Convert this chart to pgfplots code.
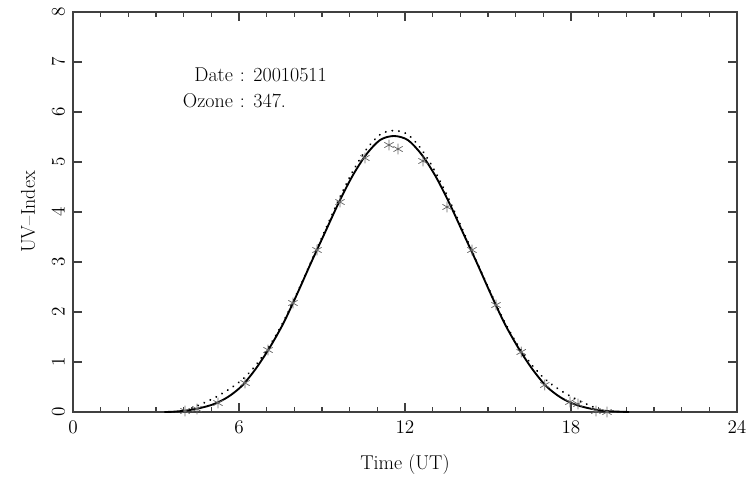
\documentclass[border=0pt]{standalone}
\usepackage{pgfplots}
\pgfplotsset{compat=1.18}
\begin{document}
\begin{tikzpicture}[font=\fontsize{15}{17}\selectfont]
\useasboundingbox (0,0) rectangle (562.5pt,357pt);
\begin{axis}[
  at={(54.75pt,48pt)}, anchor=south west,
  scale only axis, width=498pt, height=300pt,
  xmin=0, xmax=24, ymin=0, ymax=8,
  xtick={0,6,12,18,24},
  minor xtick={1,2,3,4,5,7,8,9,10,11,13,14,15,16,17,19,20,21,22,23},
  ytick={0,1,2,3,4,5,6,7,8},
  tick align=inside,
  major tick length=6.75pt, minor tick length=3.75pt,
  axis line style={black!75, line width=0.9pt},
  every tick/.style={black!75, line width=0.9pt},
  tick label style={font=\fontsize{15}{17}\selectfont},
  xticklabel style={yshift=-3pt},
  yticklabel style={rotate=90, anchor=south, inner sep=6pt},
  xlabel={Time (UT)}, ylabel={UV--Index},
  every axis x label/.style={at={(axis description cs:0.5,-0.1325)}, anchor=center},
  every axis y label/.style={at={(axis description cs:-0.0678,0.5)}, anchor=center, rotate=90},
  clip=false,
]
% dotted model curve
\addplot[black, line width=1.6pt, line cap=round, dash pattern=on 0.01pt off 5pt, smooth] coordinates {
(4.3,0.08) (4.6,0.15) (5.1,0.28) (5.6,0.44) (6.1,0.64) (6.6,0.93) (7.1,1.32) (7.6,1.80) (8.1,2.38) (8.6,3.00) (9.1,3.62) (9.6,4.24) (10.1,4.80) (10.6,5.25) (11.1,5.55) (11.6,5.63) (12.1,5.55) (12.6,5.25) (13.1,4.80) (13.6,4.24) (14.1,3.62) (14.6,3.00) (15.1,2.38) (15.6,1.80) (16.1,1.32) (16.6,0.93) (17.1,0.64) (17.6,0.44) (18.1,0.28) (18.6,0.15) (18.9,0.08)
};
% solid model curve
\addplot[black, line width=1.4pt, smooth] coordinates {
(3.3,0) (3.6,0.005) (4.1,0.03) (4.6,0.08) (5.1,0.16) (5.6,0.30) (6.1,0.52) (6.6,0.86) (7.1,1.28) (7.6,1.77) (8.1,2.36) (8.6,2.98) (9.1,3.58) (9.6,4.18) (10.1,4.72) (10.6,5.15) (11.1,5.44) (11.6,5.52) (12.1,5.44) (12.6,5.15) (13.1,4.72) (13.6,4.18) (14.1,3.58) (14.6,2.98) (15.1,2.36) (15.6,1.77) (16.1,1.28) (16.6,0.86) (17.1,0.52) (17.6,0.30) (18.1,0.16) (18.6,0.08) (19.1,0.03) (19.6,0.01) (20.1,0)
};
% measurements
\addplot[only marks, mark=asterisk, mark size=4pt, mark options={black!60, line width=0.55pt}] coordinates {
(4.05,0.02) (4.48,0.06) (5.24,0.18) (6.22,0.58) (7.05,1.24) (7.95,2.18) (8.82,3.24) (9.65,4.20) (10.55,5.08) (11.42,5.34) (11.75,5.26) (12.65,5.02) (13.52,4.10) (14.42,3.24) (15.29,2.14) (16.20,1.20) (17.05,0.54) (17.96,0.20) (18.25,0.16) (18.90,0.02) (19.30,0.00)
};
\node[anchor=base] at (axis cs:6.12,6.62) {:};
\node[anchor=base east] at (axis cs:5.95,6.62) {Date};
\node[anchor=base west] at (axis cs:6.35,6.62) {20010511};
\node[anchor=base] at (axis cs:6.12,6.10) {:};
\node[anchor=base east] at (axis cs:5.95,6.10) {Ozone};
\node[anchor=base west] at (axis cs:6.35,6.10) {347.};
\end{axis}
\end{tikzpicture}
\end{document}
